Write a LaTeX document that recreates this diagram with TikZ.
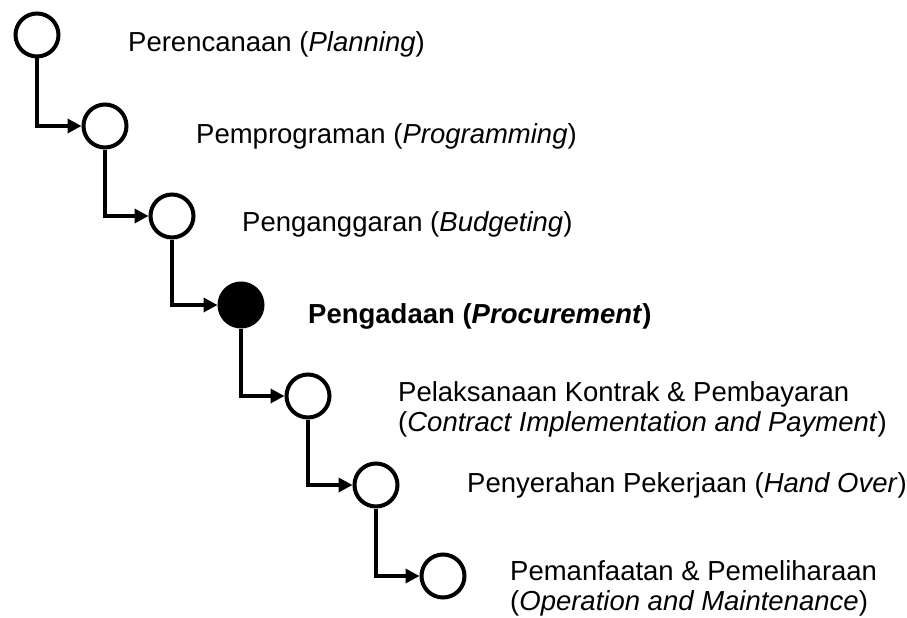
\documentclass[tikz,border=0pt]{standalone}
\usepackage{fontspec}
\setmainfont{Liberation Sans}
\usetikzlibrary{arrows.meta}

\tikzset{
	stage/.style={circle, draw, line width=4pt, minimum size=43pt, inner sep=0pt},
	stagenow/.style={stage, fill=black},
	label/.style={anchor=base west, inner sep=0pt, align=left, font=\fontsize{27.5}{30}\selectfont},
	link/.style={line width=4pt, -{Triangle[length=14pt,width=14pt]}}
}

\begin{document}
\begin{tikzpicture}[x=1pt, y=-1pt]
	\useasboundingbox (0,0) rectangle (907,618);
	
	% stages
	\node[stage] (plan) at (37,35) {};
	\node[stage] (prog) at (105,126) {};
	\node[stage] (budget) at (172,216) {};
	\node[stagenow] (procure) at (241,305) {};
	\node[stage] (contract) at (308,396) {};
	\node[stage] (handover) at (376,485) {};
	\node[stage] (operate) at (443,576) {};
	
	% labels (base = last line)
	\node[label] (tplan) at (128,52) {Perencanaan (\textit{Planning})};
	\node[label] (tprog) at (196,143) {Pemprograman (\textit{Programming})};
	\node[label] (tbudget) at (242,231) {Penganggaran (\textit{Budgeting})};
	\node[label] (tprocure) at (308,323) {\textbf{Pengadaan (\textit{Procurement})}};
	\node[label] (tcontract) at (398,431) {Pelaksanaan Kontrak \& Pembayaran\\(\textit{Contract Implementation and Payment})};
	\node[label] (thandover) at (467,492) {Penyerahan Pekerjaan (\textit{Hand Over})};
	\node[label] (toperate) at (510,610) {Pemanfaatan \& Pemeliharaan\\(\textit{Operation and Maintenance})};
	
	% flow
	\draw[link] (plan) |- (prog);
	\draw[link] (prog) |- (budget);
	\draw[link] (budget) |- (procure);
	\draw[link] (procure) |- (contract);
	\draw[link] (contract) |- (handover);
	\draw[link] (handover) |- (operate);
	
\end{tikzpicture}
\end{document}
